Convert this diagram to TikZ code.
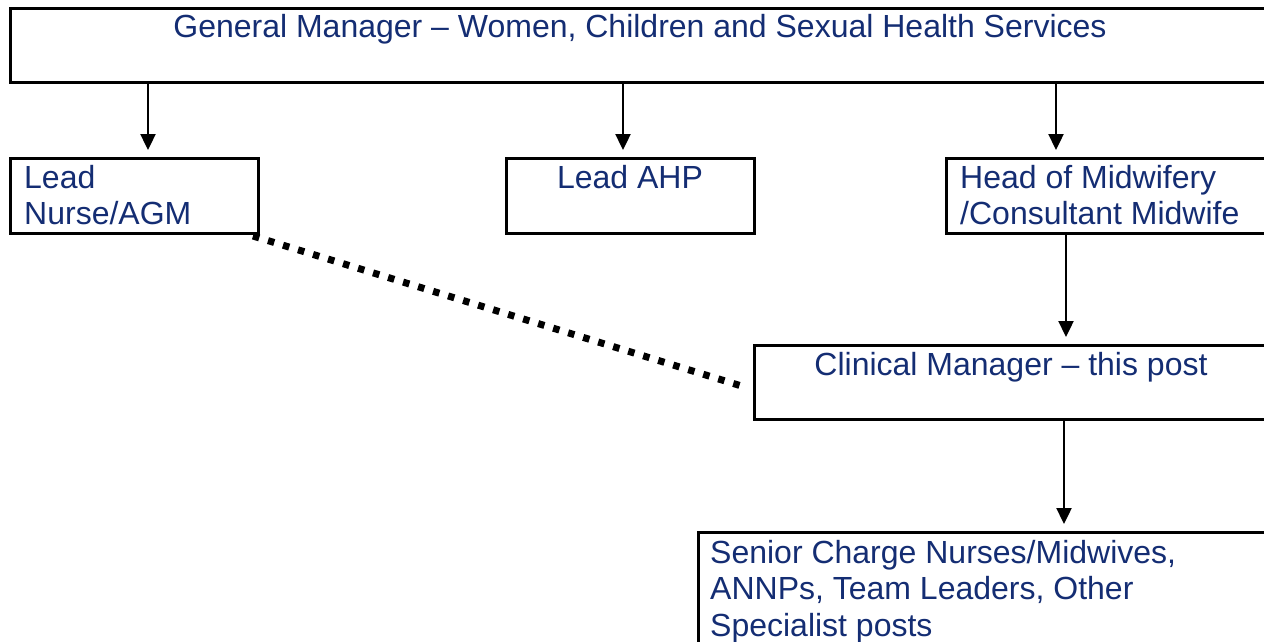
\documentclass[tikz,border=0pt]{standalone}
\usepackage{fontspec}
\setmainfont{Liberation Sans}
\usetikzlibrary{arrows.meta}
\definecolor{postblue}{RGB}{20,45,115}

\begin{document}
\begin{tikzpicture}[x=1pt, y=-1pt,
		post/.style={draw, line width=3pt, anchor=north west, inner sep=0pt, outer sep=0pt},
		title/.style={inner sep=0pt, text=postblue, font=\fontsize{32}{36.5}\selectfont, align=left},
		down/.style={line width=2.4pt, -{Triangle[length=16pt,width=15pt]}, shorten >=8pt},
		link/.style={line width=7pt, dash pattern=on 6.5pt off 9.2pt}]
		\useasboundingbox (0,0) rectangle (1264,642);
		\clip (0,0) rectangle (1264,642);
		% boxes
		\node[post, minimum width=1260pt, minimum height=74pt] (gm) at (10,9) {};
		\node[post, minimum width=248pt, minimum height=75pt] (nurse) at (10,158) {};
		\node[post, minimum width=248pt, minimum height=75pt] (ahp) at (506,158) {};
		\node[post, minimum width=330pt, minimum height=75pt] (hom) at (946,158) {};
		\node[post, minimum width=514pt, minimum height=74pt] (cm) at (754,345) {};
		\node[post, minimum width=600pt, minimum height=150pt] (staff) at (698,532) {};
		% texts (first baseline 30pt under the top edge)
		\node[title, anchor=base] (gmT) at ([yshift=-29pt]gm.north) {General Manager -- Women, Children and Sexual Health Services};
		\node[title, anchor=north west] (nurseT) at ([xshift=14pt,yshift=-4.45pt]nurse.north west) {\strut Lead\\Nurse/AGM};
		\node[title, anchor=base] (ahpT) at ([yshift=-30pt]ahp.north) {Lead AHP};
		\node[title, anchor=north west] (homT) at ([xshift=14pt,yshift=-4.45pt]hom.north west) {\strut Head of Midwifery\\/Consultant Midwife};
		\node[title, anchor=base] (cmT) at ([yshift=-30pt]cm.north) {Clinical Manager -- this post};
		\node[title, anchor=north west] (staffT) at ([xshift=12pt,yshift=-5.45pt]staff.north west) {\strut Senior Charge Nurses/Midwives,\\ANNPs, Team Leaders, Other\\Specialist posts};
		% lines of report
		\draw[down] ([xshift=14pt]nurse.north |- gm.south) -- ([xshift=14pt]nurse.north);
		\draw[down] ([xshift=-7pt]ahp.north |- gm.south) -- ([xshift=-7pt]ahp.north);
		\draw[down] ([xshift=110pt]hom.north west |- gm.south) -- ([xshift=110pt]hom.north west);
		\draw[down] ([xshift=120pt]hom.south west) -- ([xshift=120pt]hom.south west |- cm.north);
		\draw[down] ([xshift=310pt]cm.south west) -- ([xshift=310pt]cm.south west |- staff.north);
		\draw[link] ([xshift=-5pt,yshift=-3pt]nurse.south east) -- ([xshift=-6pt,yshift=-6pt]cm.west);
	\end{tikzpicture}
\end{document}
